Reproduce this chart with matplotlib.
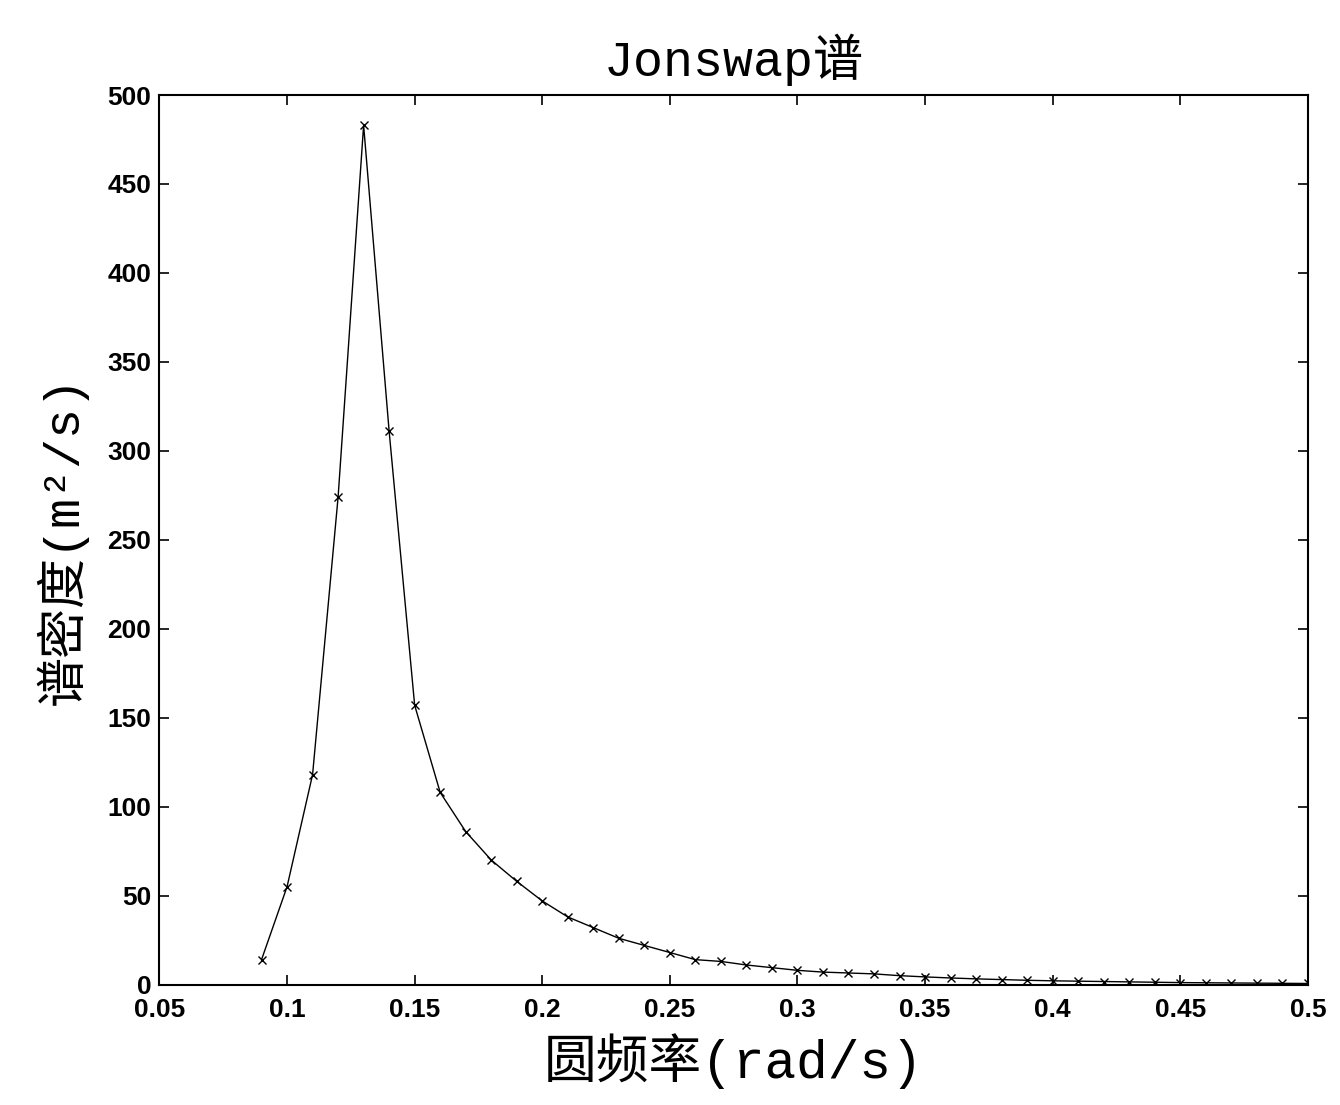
import matplotlib
matplotlib.use('Agg')
import matplotlib.pyplot as plt

# frequency (rad/s) and spectral density (m^2/s)
omega = [0.09, 0.10, 0.11, 0.12, 0.13, 0.14, 0.15, 0.16, 0.17, 0.18,
         0.19, 0.20, 0.21, 0.22, 0.23, 0.24, 0.25, 0.26, 0.27, 0.28,
         0.29, 0.30, 0.31, 0.32, 0.33, 0.34, 0.35, 0.36, 0.37, 0.38,
         0.39, 0.40, 0.41, 0.42, 0.43, 0.44, 0.45, 0.46, 0.47, 0.48,
         0.49, 0.50]
density = [14, 55, 118, 274, 483, 311, 157, 108, 86, 70,
           58, 47, 38, 32, 26, 22, 18, 14, 13, 11,
           9.5, 8, 7, 6.5, 6, 5, 4.3, 3.7, 3.2, 2.8,
           2.4, 2.1, 1.9, 1.7, 1.5, 1.3, 1.1, 1.0, 0.9, 0.8,
           0.7, 0.6]

xticks = [0.05, 0.1, 0.15, 0.2, 0.25, 0.3, 0.35, 0.4, 0.45, 0.5]
xticklabels = ['0.05', '0.1', '0.15', '0.2', '0.25', '0.3', '0.35', '0.4', '0.45', '0.5']
yticks = [0, 50, 100, 150, 200, 250, 300, 350, 400, 450, 500]

cjk = ['Liberation Mono', 'Noto Sans CJK SC', 'DejaVu Sans']

fig = plt.figure(figsize=(13.4, 11.05), dpi=100)
ax = fig.add_axes([0.119, 0.109, 0.857, 0.805])

ax.plot(omega, density, color='black', linewidth=1.0, marker='x',
        markersize=6, markeredgewidth=1.0)

ax.set_xlim(0.05, 0.5)
ax.set_ylim(0, 500)
ax.set_xticks(xticks)
ax.set_xticklabels(xticklabels)
ax.set_yticks(yticks)
ax.tick_params(direction='in', top=True, right=True, length=7, width=1.2,
               labelsize=19)
ax.tick_params(axis='x', pad=10)
ax.tick_params(axis='y', pad=6)
for lab in ax.get_xticklabels() + ax.get_yticklabels():
    lab.set_fontweight('bold')
    lab.set_family('Liberation Sans')
for s in ax.spines.values():
    s.set_linewidth(1.5)

ax.set_title('Jonswap谱', family=cjk, fontsize=36, pad=14)
ax.set_xlabel('圆频率(rad/s)', family=cjk, fontsize=38, labelpad=8)
ax.set_ylabel('谱密度(m²/s)', family=cjk, fontsize=36, labelpad=14)

fig.savefig('out.png', dpi=100, facecolor='white')
